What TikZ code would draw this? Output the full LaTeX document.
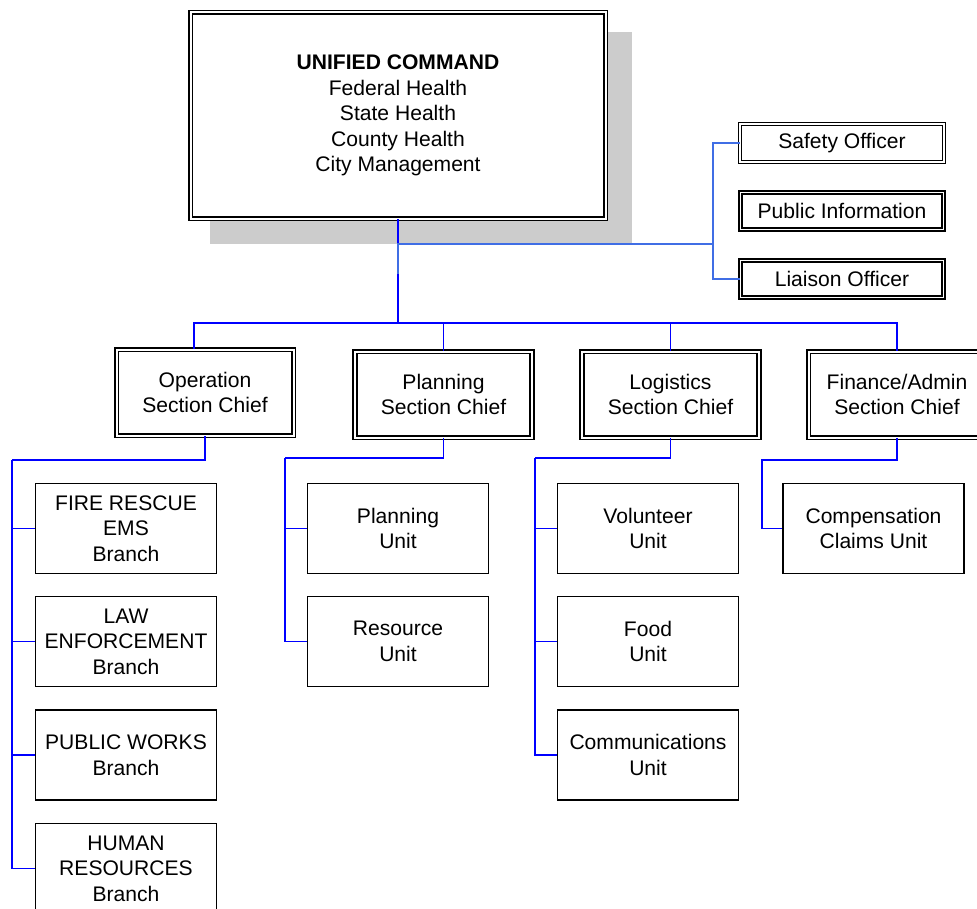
\documentclass[tikz,border=0pt]{standalone}
\usepackage{fontspec}
\setmainfont{Liberation Sans}
\newlength{\du}
\setlength{\du}{0.02cm}
\definecolor{linkblue}{rgb}{0.000000, 0.000000, 1.000000}
\definecolor{staffblue}{rgb}{0.250000, 0.430000, 0.900000}
\definecolor{shadowgray}{rgb}{0.800000, 0.800000, 0.800000}
\tikzset{
  orgtext/.style={font=\fontsize{12}{14.5}\selectfont, align=center, inner sep=0pt},
  cmdbox/.style={orgtext, draw=black, double=white, double distance=2\du, line width=1.6\du, fill=white, minimum width=415\du, minimum height=206\du},
  safetybox/.style={orgtext, draw=black, double=white, double distance=2.2\du, line width=0.9\du, fill=white, minimum width=204\du, minimum height=38\du},
  staffbox/.style={orgtext, draw=black, double=white, double distance=1.6\du, line width=1.8\du, fill=white, minimum width=203\du, minimum height=37\du},
  chiefbox/.style={orgtext, draw=black, double=white, double distance=2\du, line width=1.6\du, fill=white, minimum width=177\du, minimum height=86\du},
  unitbox/.style={orgtext, draw=black, fill=white, line width=1.3\du, minimum width=181\du, minimum height=90\du},
  link/.style={draw=linkblue, line width=1.6\du},
  stafflink/.style={draw=staffblue, line width=1.6\du}
}
\begin{document}
\begin{tikzpicture}
\pgftransformxscale{1.000000}
\pgftransformyscale{-1.000000}
\useasboundingbox (0\du,0\du) rectangle (977\du,909\du);
\clip (0\du,0\du) rectangle (977\du,909\du);
% shadow under the command box
\fill[shadowgray] (210\du,32\du) rectangle (632\du,244\du);
\node[cmdbox] (ucmd) at (398\du,115.5\du){\textbf{UNIFIED COMMAND}\\Federal Health\\State Health\\County Health\\City Management};
% staff
\node[safetybox] (safety) at (842\du,143\du){Safety Officer};
\node[staffbox] (pubinfo) at (842\du,211\du){Public Information};
\node[staffbox] (liaison) at (842\du,279\du){Liaison Officer};
% section chiefs
\node[chiefbox] (ops) at (205\du,392.5\du){Operation\\Section Chief};
\node[chiefbox] (plan) at (443.5\du,394.5\du){Planning\\Section Chief};
\node[chiefbox] (logi) at (670.5\du,394.5\du){Logistics\\Section Chief};
\node[chiefbox] (fin) at (897\du,394.5\du){Finance/Admin\\Section Chief};
% branches
\node[unitbox] (fire) at (126\du,528.5\du){FIRE RESCUE\\EMS\\Branch};
\node[unitbox] (law) at (126\du,641.5\du){LAW\\ENFORCEMENT\\Branch};
\node[unitbox] (works) at (126\du,755\du){PUBLIC WORKS\\Branch};
\node[unitbox] (human) at (126\du,868.5\du){HUMAN\\RESOURCES\\Branch};
% units
\node[unitbox] (planunit) at (398\du,528.5\du){Planning\\Unit};
\node[unitbox] (resunit) at (398\du,641.5\du){Resource\\Unit};
\node[unitbox] (volunit) at (648\du,528.5\du){Volunteer\\Unit};
\node[unitbox] (foodunit) at (648\du,641.5\du){Food\\Unit};
\node[unitbox] (commsunit) at (648\du,755\du){Communications\\Unit};
\node[unitbox] (compunit) at (873.5\du,528.5\du){Compensation\\Claims Unit};
% connectors
\coordinate (stafftap) at (398\du,244\du);
\coordinate (stafftail) at (398\du,274\du);
\coordinate (staffbus) at (713\du,244\du);
\coordinate (bus) at (398\du,323\du);
\coordinate (opsbus) at (12\du,460\du);
\coordinate (planbus) at (285\du,458\du);
\coordinate (logibus) at (535\du,458\du);
\coordinate (finbus) at (762\du,460\du);
\draw[link] (ucmd.south) -- (bus);
\draw[stafflink] (stafftail) -- (stafftap) -- (staffbus);
\draw[stafflink] (safety.west) -| (staffbus) |- (liaison.west);
\draw[link] ([xshift=-11\du]ops.north) |- (bus) -| (fin.north);
\draw[link] (bus) -| (plan.north);
\draw[link] (bus) -| (logi.north);
\draw[link] (ops.south) |- (opsbus);
\foreach \b in {fire,law,works,human}
  \draw[link] (opsbus) |- (\b.west);
\draw[link] (plan.south) |- (planbus);
\foreach \u in {planunit,resunit}
  \draw[link] (planbus) |- (\u.west);
\draw[link] (logi.south) |- (logibus);
\foreach \u in {volunit,foodunit,commsunit}
  \draw[link] (logibus) |- (\u.west);
\draw[link] (fin.south) |- (finbus) |- (compunit.west);
\end{tikzpicture}
\end{document}
